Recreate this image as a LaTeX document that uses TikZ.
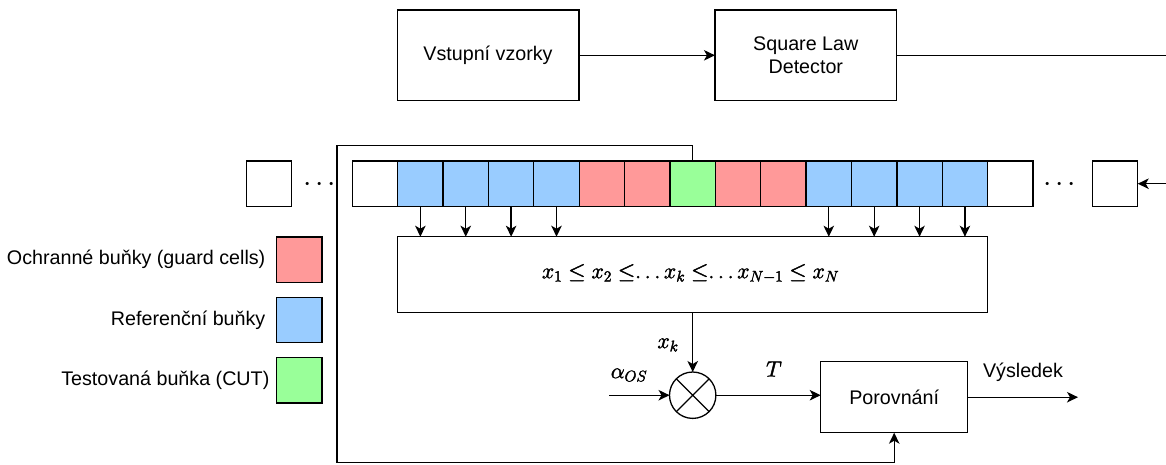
\RequirePackage{fix-cm}
\documentclass[tikz,border=0pt]{standalone}
\usepackage{fontspec}
\setmainfont{Liberation Sans}
\usetikzlibrary{arrows.meta}
\definecolor{guard}{HTML}{FF9999}
\definecolor{refc}{HTML}{99CCFF}
\definecolor{cut}{HTML}{99FF99}
% formulas set slightly heavier (fill + thin outline)
\newcommand\heavymath[1]{\special{pdf:literal direct 2 Tr 0.45 w}#1\special{pdf:literal direct 0 Tr 1.3 w}}
% relation directly followed by dots, without the usual gap
\newcommand\leDots{\le\mskip-\thickmuskip\ldots}
\begin{document}
\begin{tikzpicture}[x=1pt,y=-1pt,line width=1.3pt,
  font=\fontsize{19.7}{23}\selectfont,
  block/.style={draw,inner sep=0pt,outer sep=0pt,align=center},
  cell/.style={draw,minimum width=45.4pt,minimum height=45.5pt,inner sep=0pt,outer sep=0pt},
  flow/.style={-{Stealth[length=11pt,width=10.5pt,inset=3pt]}},
  lbl/.style={inner sep=0pt},
  mlbl/.style={inner sep=0pt,font=\fontsize{22}{26}\selectfont},
  dots/.style={inner sep=0pt,anchor=base,font=\fontsize{30}{30}\selectfont}]
\useasboundingbox (0,0) rectangle (1166,464);

% input chain
\node[block,minimum width=181.7pt,minimum height=90.5pt] (V) at (488,55.3) {Vstupní vzorky};
\node[block,minimum width=181.7pt,minimum height=90.5pt] (SLD) at (805.8,55.3) {Square Law\\Detector};
\coordinate (outTop) at (1166,55.3);
\coordinate (inRow) at (1166,183.7);
\draw[flow] (V.east) -- (SLD.west);
\draw (SLD.east) -- (outTop);

% cell shift register
\foreach \i/\c in {1/white,2/refc,3/refc,4/refc,5/refc,6/guard,7/guard,8/cut,
                   9/guard,10/guard,11/refc,12/refc,13/refc,14/refc,15/white}
  \node[cell,fill=\c] (c\i) at ({352.3+45.38*(\i-0.5)},183.7) {};
\node[cell] (L) at (269,183.7) {};
\node[cell] (R) at (1115,183.7) {};
\node[dots] (dl) at (320,191.2) {${\cdot}\kern3.7pt{\cdot}\kern3.7pt{\cdot}$};
\node[dots] (dr) at (1060,191.2) {${\cdot}\kern3.7pt{\cdot}\kern3.7pt{\cdot}$};
\draw[flow] (inRow) -- (R.east);

% sorting block
\node[block,minimum width=590pt,minimum height=75.8pt] (S) at (692.7,274.6) {};
\node[mlbl] (st) at (690.5,273.5) {\heavymath{$x_1 \le x_2 \leDots x_k \leDots x_{N-1} \le x_N$}};
\foreach \i in {2,3,4,5,11,12,13,14}
  \draw[flow] (c\i.south) -- (c\i.south |- S.north);

% multiplier and comparator
\node[draw,circle,minimum size=46.4pt,inner sep=0pt,outer sep=0pt] (M) at (692.7,395.2) {};
\draw (M.north west) -- (M.south east) (M.north east) -- (M.south west);
\node[block,minimum width=147pt,minimum height=71pt] (P) at (894.2,397.2) {Porovnání};
\coordinate (alphaIn) at (609.3,395.2);
\coordinate (res) at (1078,397.2);
\draw[flow] (S.south) -- (M.north);
\draw[flow] (alphaIn) -- (M.west);
\draw[flow] (M.east) -- (M.east -| P.west);
\draw[flow] (P.east) -- (res);
\node[mlbl] (xk) at (668,345) {\heavymath{$x_k$}};
\node[mlbl] (aos) at (629,375) {\heavymath{$\alpha_{OS}$}};
\node[mlbl] (T) at (774,369) {\heavymath{$T$}};
\node[lbl] (vy) at (1023,372) {Výsledek};

% cell under test fed to the comparator
\coordinate (fbTop) at (337,145.7);
\coordinate (fbBot) at (337,462.7);
\draw[flow] (c8.north) -- (c8.north |- fbTop) -- (fbTop) -- (fbBot) -- (fbBot -| P.south) -- (P.south);

% legend
\node[cell,fill=guard] (lg) at (299.3,259.7) {};
\node[cell,fill=refc] (lr) at (299.3,320) {};
\node[cell,fill=cut] (lc) at (299.3,380.2) {};
\node[lbl,anchor=east] (tg) at (266,259.7) {Ochranné buňky (guard cells)};
\node[lbl,anchor=east] (tr) at (266,320) {Referenční buňky};
\node[lbl,anchor=east] (tc) at (270,380.2) {Testovaná buňka (CUT)};
\end{tikzpicture}
\end{document}
